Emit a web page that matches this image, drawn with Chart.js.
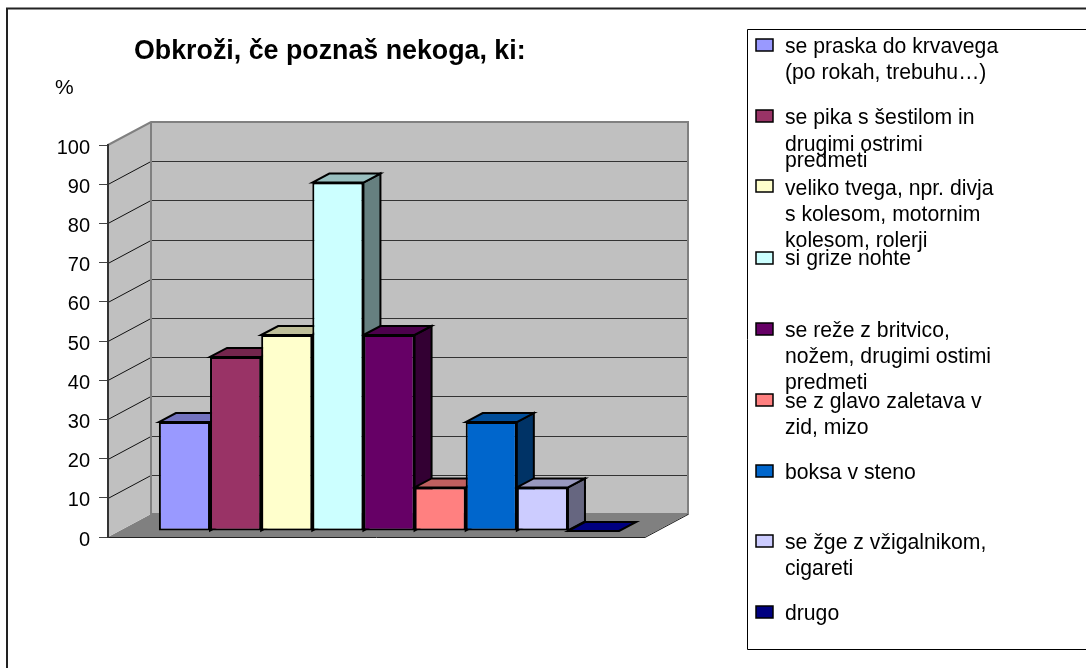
<!DOCTYPE html>
<html><head><meta charset="utf-8">
<script src="https://cdn.jsdelivr.net/npm/chart.js@4"></script>
<style>html,body{margin:0;padding:0;background:#fff}canvas{display:block}</style>
</head><body>
<div style="width:1086px;height:668px;position:relative"><canvas id="c" width="1086" height="668"></canvas></div>
<script>
const chartTitle = "Obkroži, če poznaš nekoga, ki:";
const axisUnit = "%";
const seriesNames = [
  "se praska do krvavega (po rokah, trebuhu…)",
  "se pika s šestilom in drugimi ostrimi predmeti",
  "veliko tvega, npr. divja s kolesom, motornim kolesom, rolerji",
  "si grize nohte",
  "se reže z britvico, nožem, drugimi ostimi predmeti",
  "se z glavo zaletava v zid, mizo",
  "boksa v steno",
  "se žge z vžigalnikom, cigareti",
  "drugo"
];
const legendLines = [
  ["se praska do krvavega","(po rokah, trebuhu…)"],
  ["se pika s šestilom in","drugimi ostrimi","predmeti"],
  ["veliko tvega, npr. divja","s kolesom, motornim","kolesom, rolerji"],
  ["si grize nohte"],
  ["se reže z britvico,","nožem, drugimi ostimi","predmeti"],
  ["se z glavo zaletava v","zid, mizo"],
  ["boksa v steno"],
  ["se žge z vžigalnikom,","cigareti"],
  ["drugo"]
];
const seriesValues = [27.8, 44.4, 50, 88.9, 50, 11.1, 27.8, 11.1, 0];
const seriesColors = ["#9999FF","#993366","#FFFFCC","#CCFFFF","#660066","#FF8080","#0066CC","#CCCCFF","#000080"];
const yTicks = [0,10,20,30,40,50,60,70,80,90,100];

const DEPTH_X = 43, DEPTH_Y = 23;
const BAR_SHIFT_X = 12.5, BAR_SHIFT_Y = 6;
const BAR_DX = 17, BAR_DY = 9;

function shade(hex, f){
  const n = parseInt(hex.slice(1),16);
  return `rgb(${Math.round((n>>16&255)*f)},${Math.round((n>>8&255)*f)},${Math.round((n&255)*f)})`;
}
function poly(ctx, pts, fill, stroke, lw){
  ctx.beginPath();
  pts.forEach((p,i)=> i?ctx.lineTo(p[0],p[1]):ctx.moveTo(p[0],p[1]));
  ctx.closePath();
  if(fill){ctx.fillStyle=fill;ctx.fill();}
  if(stroke){ctx.strokeStyle=stroke;ctx.lineWidth=lw;ctx.lineJoin='miter';ctx.stroke();}
}
const FONT = '"Liberation Sans", Arial, sans-serif';

const framePlugin = {
  id:'frame',
  beforeDraw(chart){
    const {ctx, chartArea:a, scales:{y}} = chart;
    ctx.save();
    ctx.fillStyle='#fff'; ctx.fillRect(0,0,chart.width,chart.height);
    ctx.strokeStyle='#222'; ctx.lineWidth=2;
    ctx.beginPath(); ctx.moveTo(7,668); ctx.lineTo(7,8.5); ctx.lineTo(1086,8.5); ctx.stroke();
    ctx.fillStyle='#000'; ctx.textBaseline='alphabetic'; ctx.textAlign='left';
    ctx.font='bold 26.8px '+FONT; ctx.fillText(chartTitle,134,59);
    ctx.font='21px '+FONT; ctx.fillText(axisUnit,55,94);
    ctx.strokeStyle='#000'; ctx.lineWidth=1;
    ctx.beginPath(); ctx.moveTo(1086,649.5); ctx.lineTo(747.5,649.5); ctx.lineTo(747.5,29.5); ctx.lineTo(1086,29.5); ctx.stroke();
    const iconY=[45,116,186,258,329,400,471,541,612];
    const lineY=[[53,79],[124,151,167],[195,221,247],[265],[337,363,389],[408,434],[479],[549,575],[620]];
    legendLines.forEach((ls,i)=>{
      ctx.fillStyle=seriesColors[i]; ctx.strokeStyle='#000'; ctx.lineWidth=1.5;
      ctx.fillRect(756,iconY[i]-6,17,12); ctx.strokeRect(756,iconY[i]-6,17,12);
      ctx.fillStyle='#000'; ctx.font='21.2px '+FONT;
      ls.forEach((t,j)=>ctx.fillText(t,785,lineY[i][j]));
    });
    const y0=y.getPixelForValue(0), yTop=y.getPixelForValue(100);
    const L=a.left, R=a.right;
    poly(ctx,[[L,y0],[L+DEPTH_X,y0-DEPTH_Y],[R+DEPTH_X,y0-DEPTH_Y],[R,y0]],'#808080');
    poly(ctx,[[L,y0],[L,yTop],[L+DEPTH_X,yTop-DEPTH_Y],[L+DEPTH_X,y0-DEPTH_Y]],'#C0C0C0');
    ctx.fillStyle='#C0C0C0'; ctx.fillRect(L+DEPTH_X,yTop-DEPTH_Y,R-L,y0-yTop);
    y.ticks.forEach(t=>{
      const py=Math.round(y.getPixelForValue(t.value))+0.5;
      if(t.value>0 && t.value<100){
        ctx.strokeStyle='#111'; ctx.lineWidth=1;
        ctx.beginPath(); ctx.moveTo(L,py); ctx.lineTo(L+DEPTH_X,py-DEPTH_Y); ctx.stroke();
        ctx.strokeStyle='#333'; ctx.lineWidth=1.2;
        ctx.beginPath(); ctx.moveTo(L+DEPTH_X,py-DEPTH_Y); ctx.lineTo(R+DEPTH_X,py-DEPTH_Y); ctx.stroke();
      }
    });
    ctx.strokeStyle='#808080'; ctx.lineWidth=2;
    ctx.beginPath();
    ctx.moveTo(L,yTop); ctx.lineTo(L+DEPTH_X,yTop-DEPTH_Y); ctx.lineTo(R+DEPTH_X,yTop-DEPTH_Y);
    ctx.lineTo(R+DEPTH_X,y0-DEPTH_Y); ctx.lineTo(L+DEPTH_X,y0-DEPTH_Y); ctx.lineTo(L+DEPTH_X,yTop-DEPTH_Y);
    ctx.stroke();
    ctx.strokeStyle='#222'; ctx.lineWidth=1;
    ctx.beginPath(); ctx.moveTo(L,y0+.5); ctx.lineTo(R,y0+.5); ctx.lineTo(R+DEPTH_X,y0-DEPTH_Y+.5); ctx.stroke();
    ctx.restore();
  }
};
const bar3dPlugin = {
  id:'bar3d',
  beforeDatasetsDraw(chart){
    const ctx=chart.ctx;
    ctx.save();
    ctx.translate(BAR_SHIFT_X,-BAR_SHIFT_Y);
    chart.getSortedVisibleDatasetMetas().forEach((meta,i)=>{
      const b=meta.data[0], hw=b.width/2, l=b.x-hw, r=b.x+hw, t=b.y, bt=b.base, c=seriesColors[i];
      if(bt-t>0.5) poly(ctx,[[r,t],[r+BAR_DX,t-BAR_DY],[r+BAR_DX,bt-BAR_DY],[r,bt]],shade(c,.5),'#000',2);
      poly(ctx,[[l,t],[l+BAR_DX,t-BAR_DY],[r+BAR_DX,t-BAR_DY],[r,t]],bt-t>0.5?shade(c,.75):c,'#000',2);
    });
  },
  afterDatasetsDraw(chart){ chart.ctx.restore(); }
};

new Chart(document.getElementById('c'),{
  type:'bar',
  data:{
    labels:[""],
    datasets:seriesNames.map((n,i)=>({
      label:n, data:[seriesValues[i]], backgroundColor:seriesColors[i],
      borderColor:'#000', borderWidth:seriesValues[i]>0?2:0, borderSkipped:false, clip:false,
      barPercentage:1, categoryPercentage:0.857
    }))
  },
  options:{
    responsive:false, animation:false,
    layout:{padding:{left:0,top:145,right:441,bottom:131}},
    plugins:{legend:{display:false},title:{display:false},tooltip:{enabled:false}},
    scales:{
      x:{display:false},
      y:{
        min:0,max:100,
        afterFit(s){s.width=108;},
        afterBuildTicks(s){s.ticks=yTicks.map(v=>({value:v}));},
        grid:{drawOnChartArea:false,drawTicks:true,tickLength:9,color:'#444',lineWidth:1},
        border:{display:true,color:'#333',width:2},
        ticks:{color:'#000',font:{family:'"Liberation Sans", Arial, sans-serif',size:20},padding:9,labelOffset:3,autoSkip:false}
      }
    }
  },
  plugins:[framePlugin,bar3dPlugin]
});
</script>
</body></html>
